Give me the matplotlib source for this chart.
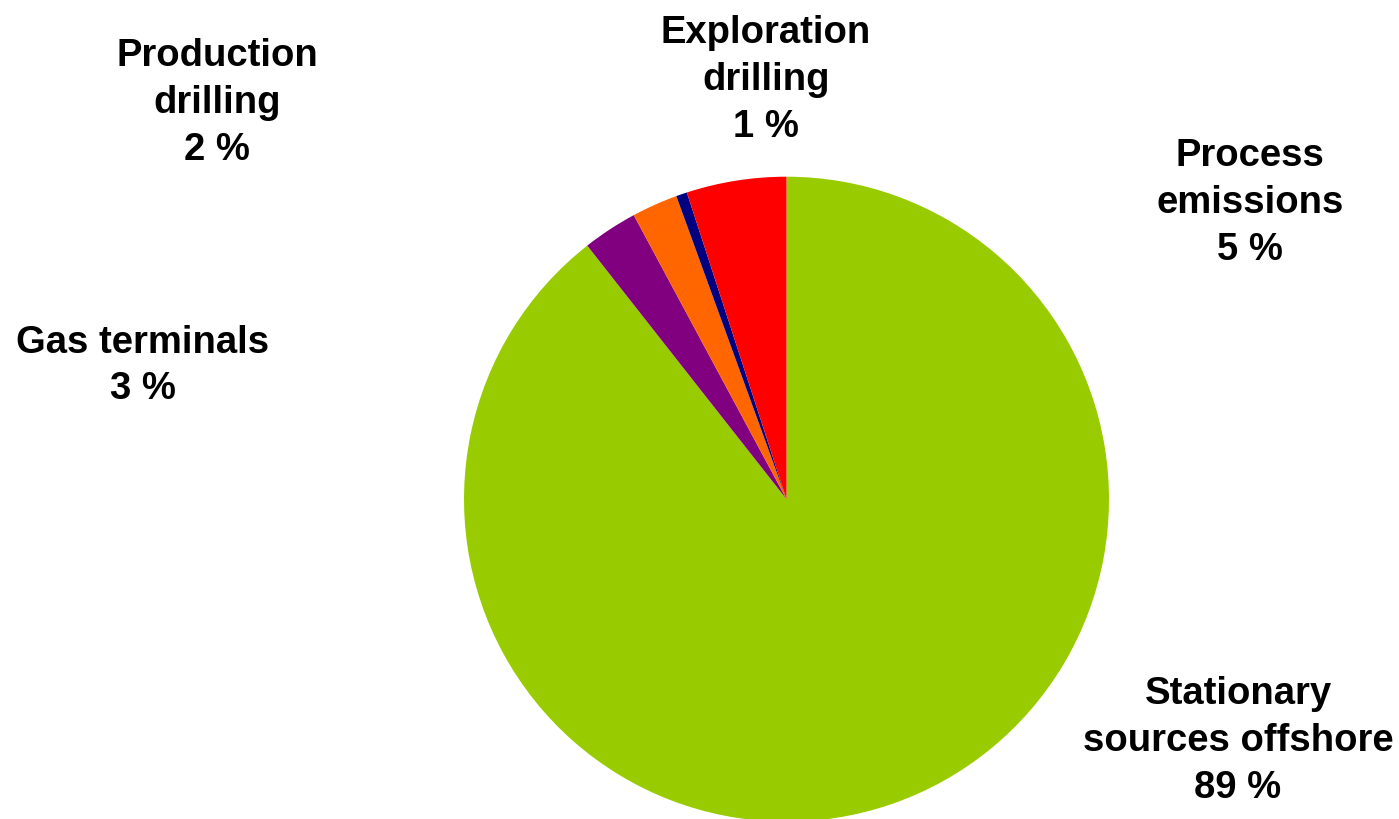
import matplotlib
matplotlib.use("Agg")
import matplotlib.pyplot as plt

categories = ["Stationary\nsources offshore", "Gas terminals", "Production\ndrilling",
              "Exploration\ndrilling", "Process\nemissions"]
values = [89.4, 2.75, 2.3, 0.55, 5.0]
pct_labels = ["89 %", "3 %", "2 %", "1 %", "5 %"]
colors = ["#99CC00", "#800080", "#FF6600", "#000080", "#FF0000"]

W, H = 1399, 820
cx, cy, R = 786.5, 500.2, 322.5

fig = plt.figure(figsize=(W / 100, H / 100), dpi=100)
ax = fig.add_axes([0, 0, 1, 1])
ax.pie(values, colors=colors, startangle=90, counterclock=False, radius=R,
       center=(cx, H - cy), wedgeprops=dict(linewidth=0))
ax.set_xlim(0, W)
ax.set_ylim(0, H)
ax.set_aspect("equal")
ax.axis("off")

# label centers in pixel coordinates (x from left, y from top)
label_pos = [(1238, 741), (143, 366), (217, 103), (766, 80), (1250, 203)]
for cat, pct, (px, py) in zip(categories, pct_labels, label_pos):
    ax.text(px, H - py, f"{cat}\n{pct}", ha="center", va="center",
            fontsize=27.5, fontweight="bold", family="Liberation Sans",
            linespacing=1.38)

fig.savefig("out.png", dpi=100)
